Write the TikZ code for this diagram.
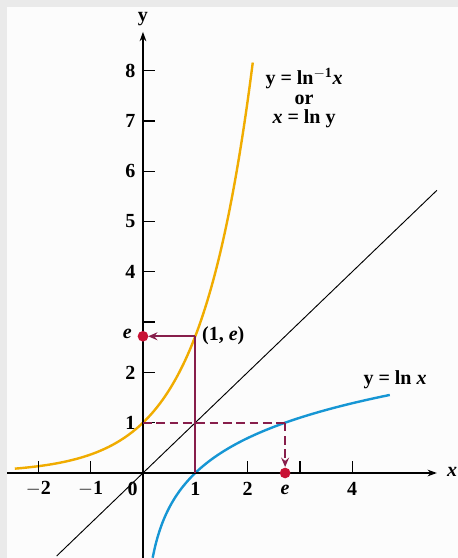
\documentclass[tikz,border=0pt]{standalone}
\usepackage{fontspec}
\setmainfont{Liberation Serif}
\usetikzlibrary{arrows.meta}
\definecolor{gold}{RGB}{240,172,0}
\definecolor{skyb}{RGB}{22,150,212}
\definecolor{plum}{RGB}{135,30,75}
\definecolor{dotred}{RGB}{200,18,52}
\definecolor{frame}{RGB}{234,234,234}
\definecolor{paper}{RGB}{252,252,252}
\begin{document}
\begin{tikzpicture}[x=39.225pt,y=37.725pt,
  lbl/.style={font=\fontsize{15}{17}\selectfont\bfseries, inner sep=1pt},
  ilbl/.style={font=\fontsize{15}{17}\selectfont\bfseries\itshape, inner sep=1pt},
  axisline/.style={line width=1.1pt, -{Stealth[length=7pt,width=5pt]}},
  tick/.style={line width=1pt},
  guide/.style={plum, line width=1.2pt},
  guidearrow/.style={plum, line width=1.2pt, -{Stealth[length=7pt,width=6pt,inset=2.5pt]}},
  reddot/.style={circle, fill=dotred, minimum size=8pt, inner sep=0pt}]
\useasboundingbox (-2.734,-1.690) rectangle (6.023,9.404);
\fill[frame] (-2.734,-1.690) rectangle (6.023,9.404);
\fill[paper] (-2.60,-1.690) rectangle (6.023,9.265);
% diagonal y = x
\draw[line width=0.7pt] (-1.65,-1.65) -- (5.62,5.62);
% curves
\draw[gold, line width=1.8pt, domain=-2.45:2.1, samples=80, smooth] plot (\x,{exp(\x)});
\draw[skyb, line width=1.8pt, domain=0.185:4.72, samples=100, smooth] plot (\x,{ln(\x)});
% axes
\coordinate (xs) at (-2.6,0);
\coordinate (xe) at (5.62,0);
\coordinate (ys) at (0,-1.69);
\coordinate (ye) at (0,8.77);
\draw[axisline] (xs) -- (xe);
\draw[axisline] (ys) -- (ye);
\node[ilbl] (xl) at (5.91,0.02) {x};
\node[lbl] (yl) at (0,9.02) {y};
% ticks
\foreach \t in {-2,-1,1,2,3,4} \draw[tick] (\t,0) -- (\t,0.24);
\foreach \t in {1,2,3,4,5,6,7,8} \draw[tick] (0,\t) -- (0.23,\t);
% tick labels
\foreach \t/\s in {-2/$-$2,-1/$-$1,1/1,2/2,4/4} \node[lbl] (xt\t) at (\t,-0.32) {\s};
\node[lbl] (x0) at (-0.2,-0.32) {0};
\node[ilbl] (xte) at (2.718,-0.34) {e};
\foreach \t in {1,2,4,5,6,7,8} \node[lbl] (yt\t) at (-0.24,\t) {\t};
\node[ilbl] (yte) at (-0.3,2.76) {e};
% guide lines
\coordinate (p10) at (1,0);
\coordinate (p1e) at (1,2.718);
\coordinate (p0e) at (0.1,2.718);
\coordinate (p01) at (0,1);
\coordinate (pe1) at (2.718,1);
\coordinate (pe0) at (2.718,0.12);
\draw[guide] (p10) -- (p1e);
\draw[guidearrow] (p1e) -- (p0e);
\draw[guide, dash pattern=on 6.5pt off 3.5pt] (p01) -- (pe1);
\draw[guidearrow, dash pattern=on 6.5pt off 3.5pt] (pe1) -- (pe0);
\node[reddot] (dy) at (0,2.718) {};
\node[reddot] (dx) at (2.718,0) {};
% labels
\node[lbl, anchor=west] (pt) at (1.1,2.73) {(1, \textit{e})};
\node[lbl] (lnx) at (4.82,1.86) {y = ln \textit{x}};
\node[lbl, align=center, font=\fontsize{15}{14.5}\selectfont\bfseries] (inv) at (3.08,7.45) {y = ln$^{\mathbf{-1}}$\textit{x}\\or\\\textit{x} = ln y};
\end{tikzpicture}
\end{document}
